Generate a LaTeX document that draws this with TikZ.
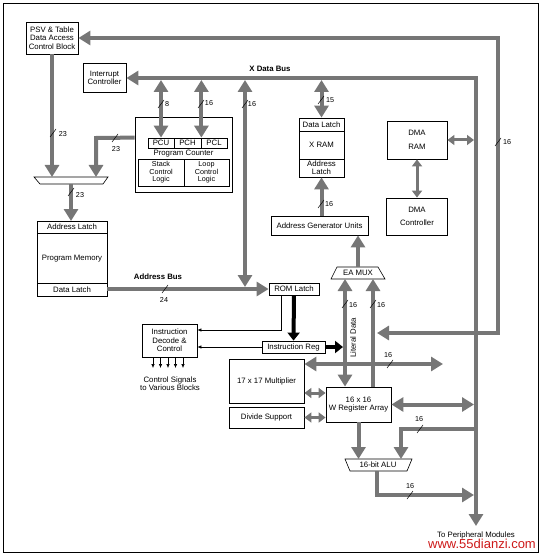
\documentclass[tikz,border=0pt]{standalone}
\usepackage{fontspec}
\setmainfont{Liberation Sans}
\usetikzlibrary{arrows.meta}
\definecolor{busgray}{RGB}{118,118,118}
\definecolor{markred}{RGB}{205,25,25}
\begin{document}
\begin{tikzpicture}[x=1pt,y=-1pt,font=\fontsize{7.8}{8.4}\selectfont,
    blk/.style={draw,line width=0.8pt,fill=white,inner sep=1pt,align=center},
    bus/.style={draw=busgray,line width=4pt,-{Triangle[length=12pt,width=14pt]}},
    dbus/.style={bus,{Triangle[length=12pt,width=14pt]}-{Triangle[length=12pt,width=14pt]}},
    sbus/.style={draw=busgray,line width=3pt,{Triangle[length=7pt,width=10pt]}-{Triangle[length=7pt,width=10pt]}},
    ctl/.style={line width=4pt,-{Triangle[length=8pt,width=12pt]}},
    sig/.style={line width=0.6pt,-{Latex[length=4pt,width=3.5pt]}},
    wd/.style={line width=0.5pt},
    lbl/.style={font=\fontsize{7.2}{8}\selectfont,inner sep=0pt},
    title/.style={font=\fontsize{7.8}{8.4}\selectfont\bfseries}]
    \useasboundingbox (0,0) rectangle (543,556);
    \draw[line width=0.8pt] (3,3) rectangle (538,552);

    % outer buses
    \node[blk,minimum width=52pt,minimum height=32pt] (psv) at (52,38) {PSV \& Table\\Data Access\\Control Block};
    \node[blk,minimum width=43pt,minimum height=29pt] (intc) at (104.5,78) {Interrupt\\Controller};
    \draw[dbus] (377,333) -- (498,333) -- (498,38) -- (psv.east);
    \draw[dbus] (intc.east) -- (476,78) -- (476,526);

    % program counter
    \node[blk,minimum width=97pt,minimum height=75pt] (pc) at (183.5,154.5) {};
    \node[blk,minimum width=26pt,minimum height=10pt] (pcu) at (161,143) {PCU};
    \node[blk,minimum width=27pt,minimum height=10pt] (pch) at (187.5,143) {PCH};
    \node[blk,minimum width=26pt,minimum height=10pt] (pcl) at (214,143) {PCL};
    \node[inner sep=0pt] (pctxt) at (183.5,154) {Program Counter};
    \node[blk,minimum width=46pt,minimum height=27pt,font=\fontsize{7.2}{7.4}\selectfont] (stk) at (161,172.5) {Stack\\Control\\Logic};
    \node[blk,minimum width=45pt,minimum height=27pt,font=\fontsize{7.2}{7.4}\selectfont] (loop) at (206.5,172.5) {Loop\\Control\\Logic};
    \draw[dbus] (pcu.north |- intc.east) ++(0,2) -- (pcu.north);
    \draw[dbus] (pch.north east |- intc.east) ++(0,2) -- (pch.north east);

    % program memory
    \coordinate (mux) at (71,177);
    \draw[line width=0.6pt,fill=white] (34,177) -- (108,177) -- (103,184) -- (40,184) -- cycle;
    \node[blk,minimum width=70pt,minimum height=75pt] (pm) at (72,258.5) {Program Memory};
    \draw[line width=0.8pt] (37,233) -- (107,233) (37,283) -- (107,283);
    \node (pmal) at (72,227) {Address Latch};
    \node (pmdl) at (72,289.5) {Data Latch};
    \draw[bus] (psv.south) -- (psv.south |- mux);
    \draw[bus] (pc.west |- pcu.north) -- (96,138) -- (96,177);
    \draw[bus] (71,184) -- (71,221);

    % X RAM and DMA
    \node[blk,minimum width=45pt,minimum height=59pt] (xram) at (321.5,147.5) {};
    \draw[line width=0.8pt] (299,131) -- (344,131) (299,159) -- (344,159);
    \node (xdl) at (321.5,124.5) {Data Latch};
    \node (xr) at (321.5,145) {X RAM};
    \node[align=center,font=\fontsize{7.8}{7.8}\selectfont] (xal) at (321.5,168) {Address\\Latch};
    \draw[dbus] (xram.north |- intc.east) ++(0,2) -- (xram.north);
    \node[blk,minimum width=60pt,minimum height=38pt] (dmaram) at (417,140) {DMA\\[5pt]RAM};
    \node[blk,minimum width=61pt,minimum height=37pt] (dmactl) at (417,216.5) {DMA\\[5pt]Controller};
    \draw[sbus] (dmaram.south) -- (dmactl.north);
    \draw[sbus] (dmaram.east) -- (474,140);
    \node[blk,minimum width=97pt,minimum height=19pt] (agu) at (319.5,225.5) {Address Generator Units};
    \draw[bus] (xram.south |- agu.north) -- (xram.south);

    % EA MUX
    \coordinate (ea) at (358,273);
    \draw[line width=0.6pt,fill=white] (337,267) -- (378,267) -- (385,279) -- (331,279) -- cycle;
    \node (eatxt) at (ea) {EA MUX};
    \draw[bus] (ea |- 0,267) -- (ea |- agu.south);

    % address bus and instruction path
    \node[blk,minimum width=50pt,minimum height=12pt] (rom) at (294,289) {ROM Latch};
    \node[blk,minimum width=63pt,minimum height=12pt] (ireg) at (293.5,347) {Instruction Reg};
    \node[blk,minimum width=55pt,minimum height=33pt] (idec) at (169.5,340.5) {Instruction\\Decode \&\\Control};
    \draw[bus] (pm.east |- rom.west) -- (rom.west);
    \draw[dbus] (245,80) -- (245,287);
    \draw[ctl] (rom.south) -- (ireg.north);
    \draw[ctl] (ireg.east) -- (343,347);
    \draw[sig] (281,295) -- (281,330) -- (idec.east |- 0,330);
    \draw[sig] (ireg.west) -- (idec.east |- ireg.west);
    \foreach \x in {153,160.5,168,175.5,183} \draw[sig] (\x,357) -- (\x,368);
    \node[align=center] (cs) at (170,384) {Control Signals\\to Various Blocks};

    % W registers and ALU
    \node[blk,minimum width=75pt,minimum height=44pt] (mult) at (266.5,381) {17 x 17 Multiplier};
    \node[blk,minimum width=75pt,minimum height=21pt] (div) at (266.5,417.5) {Divide Support};
    \node[blk,minimum width=65pt,minimum height=35pt] (wreg) at (358.5,404.5) {16 x 16\\W Register Array};
    \draw[dbus] (345,279) -- (wreg.north -| 345,0);
    \draw[bus] (wreg.north -| 373,0) -- (373,279);
    \draw[dbus] (mult.east |- 0,364) -- (443,364);
    \draw[sbus] (mult.east |- 0,393) -- (wreg.west |- 0,393);
    \draw[sbus] (div.east) -- (div.east -| wreg.west);
    \draw[dbus] (wreg.east) -- (474,404.5);
    \coordinate (alu) at (378,465);
    \draw[line width=0.6pt,fill=white] (345,459) -- (412,459) -- (407,471) -- (350,471) -- cycle;
    \node (alutxt) at (alu) {16-bit ALU};
    \draw[bus] (wreg.south) -- (wreg.south |- 0,459);
    \draw[bus] (474,429) -- (401,429) -- (401,459);
    \draw[bus] (377,471) -- (377,495) -- (474,495);

    % bus widths
    \draw[wd] (50,137) -- (56,129);  \node[lbl] (w1) at (63,134) {23};
    \draw[wd] (112,142) -- (118,134); \node[lbl] (w2) at (116,149) {23};
    \draw[wd] (68,196) -- (74,188);  \node[lbl] (w3) at (80,195) {23};
    \draw[wd] (158,108) -- (164,100); \node[lbl] (w4) at (167,104) {8};
    \draw[wd] (198,108) -- (204,100); \node[lbl] (w5) at (209,103) {16};
    \draw[wd] (242,108) -- (248,100); \node[lbl] (w6) at (252,104) {16};
    \draw[wd] (318,104) -- (324,96);  \node[lbl] (w7) at (330,100) {15};
    \draw[wd] (318,208) -- (324,200); \node[lbl] (w8) at (329,204) {16};
    \draw[wd] (495,146) -- (501,138); \node[lbl] (w9) at (507,142) {16};
    \draw[wd] (162,293) -- (168,285); \node[lbl] (w10) at (164,300) {24};
    \draw[wd] (342,308) -- (348,300); \node[lbl] (w11) at (353,305) {16};
    \draw[wd] (370,308) -- (376,300); \node[lbl] (w12) at (381,305) {16};
    \draw[wd] (387,368) -- (393,360); \node[lbl] (w13) at (388,355) {16};
    \draw[wd] (417,433) -- (423,425); \node[lbl] (w14) at (419,419) {16};
    \draw[wd] (407,499) -- (413,491); \node[lbl] (w15) at (410,486) {16};

    % labels
    \node[title] (xdb) at (270,69) {X Data Bus};
    \node[title] (ab) at (158,277) {Address Bus};
    \node[rotate=90] (lit) at (353,338) {Literal Data};
    \node (tpm) at (476,535.5) {To Peripheral Modules};
    \node[anchor=base,text=markred,font=\fontsize{13}{13}\selectfont,inner sep=0pt] (wm) at (482,548.5) {www.55dianzi.com};
\end{tikzpicture}
\end{document}
